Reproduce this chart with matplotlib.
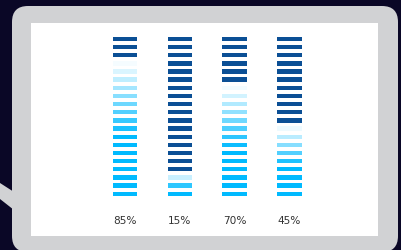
import numpy as np
import matplotlib
matplotlib.use("Agg")
import matplotlib.pyplot as plt
from matplotlib.patches import FancyBboxPatch, Rectangle, Polygon
from matplotlib.colors import to_rgb

# share of light (cyan) segments per column, out of 20 segments
labels = ['85%', '15%', '70%', '45%']
light_share = [85, 15, 70, 45]
n_segments = 20

navy_bg = '#0a0726'
bubble_grey = '#d1d2d4'
dark_blue = '#0b4f95'
cyan = '#00baff'

fig = plt.figure(figsize=(4.01, 2.5), dpi=100)
fig.patch.set_facecolor(navy_bg)

# background / speech bubble, in pixel coords
bg = fig.add_axes([0, 0, 1, 1])
bg.set_xlim(0, 401)
bg.set_ylim(250, 0)
bg.axis('off')
bg.add_patch(FancyBboxPatch((12 + 16, 6 + 16), 386 - 32, 246 - 32,
                            boxstyle='round,pad=16', fc=bubble_grey, ec='none'))
bg.add_patch(Polygon([(0, 183), (14, 192), (14, 210), (0, 199)], closed=True,
                     fc=bubble_grey, ec='none'))
bg.add_patch(Rectangle((31, 23), 347, 213, fc='white', ec='none'))

# segment bars
ax = fig.add_axes([0.2433, 0.2088, 0.547, 0.6516])
ax.set_xlim(-0.5, 3.5)
ax.set_ylim(n_segments - 0.5, -0.5)
ax.axis('off')

white = np.array(to_rgb('white'))
c_cyan = np.array(to_rgb(cyan))

for i, (lab, share) in enumerate(zip(labels, light_share)):
    n_light = round(share / 100 * n_segments)
    n_dark = n_segments - n_light
    ramp = max(n_light * 0.55, 1)
    rows = np.arange(n_segments)
    colors = []
    for r in rows:
        if r < n_dark:
            colors.append(dark_blue)
        else:
            k = r - n_dark
            a = min(1.0, (k + 0.35) / ramp)
            colors.append(tuple(white * (1 - a) + c_cyan * a))
    ax.bar(np.full(n_segments, i), 0.54, bottom=rows - 0.27, width=0.446,
           color=colors, edgecolor='none')
    ax.text(i, 22.4, lab, ha='center', va='center', fontsize=7.6,
            color='#333333', clip_on=False)

fig.savefig('out.png', dpi=100, facecolor=navy_bg)
